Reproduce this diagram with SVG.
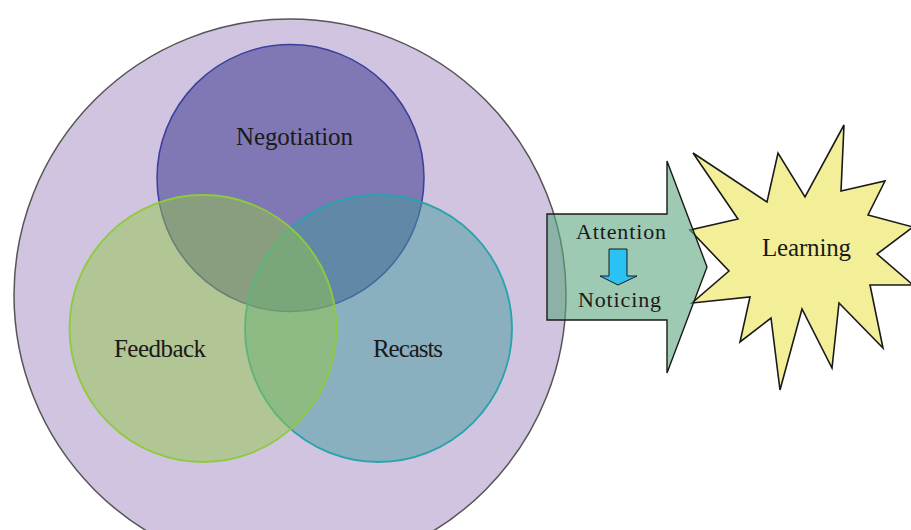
<svg xmlns="http://www.w3.org/2000/svg" width="911" height="530" viewBox="0 0 911 530">
<style>
.lbl{font-family:"Liberation Serif","Times New Roman",serif;fill:#1a1a1a;}
.big{font-size:25px;}
.small{font-size:22px;}
</style>
<rect width="911" height="530" fill="#ffffff"/>
<g id="context">
<circle cx="290" cy="295" r="276" fill="#d1c4e0" stroke="#555555" stroke-width="1.5"/>
</g>
<g id="negotiation">
<circle cx="290.5" cy="178" r="133.5" fill="#8077b5" stroke="#3b3f9c" stroke-width="1.5"/>
<text class="lbl big" x="294.5" y="145" text-anchor="middle" textLength="117">Negotiation</text>
</g>
<g id="recasts">
<circle cx="378.5" cy="328.5" r="133.5" fill="#439a9c" fill-opacity="0.5" stroke="#26a3ab" stroke-width="1.8"/>
<text class="lbl big" x="408" y="357" text-anchor="middle" textLength="70">Recasts</text>
</g>
<g id="feedback">
<circle cx="203" cy="328.5" r="133.5" fill="#92c64a" fill-opacity="0.5" stroke="#8ccc3c" stroke-width="1.8"/>
<text class="lbl big" x="160" y="357" text-anchor="middle" textLength="92">Feedback</text>
</g>
<g id="learning">
<polygon points="693,153 767,202 778,153 805,197 844,125 841,191 885,181 868,215 913,227 877,254 913,285 870,285 883,348 839,303 832,368 802,309 780,390 771,318 740,342 750,297 692,303 729,271 690,230 738,219" fill="#f3ef98" stroke="#1a1a1a" stroke-width="1.6" stroke-linejoin="miter"/>
<text class="lbl big" x="806.5" y="256" text-anchor="middle" textLength="89">Learning</text>
</g>
<g id="connectors">
<polygon points="547,214 667,214 667,161 707,267 667,373 667,320 547,320" fill="#5da782" fill-opacity="0.6" stroke="#1a1a1a" stroke-width="1.4"/>
<polygon points="609,249 627,249 627,276 637,276 618,285 600,276 609,276" fill="#29c2f2" stroke="#1a1a1a" stroke-width="1"/>
</g>
<g id="attention">
<text class="lbl small" x="621" y="239" text-anchor="middle" textLength="90">Attention</text>
</g>
<g id="noticing">
<text class="lbl small" x="619.5" y="307" text-anchor="middle" textLength="83">Noticing</text>
</g>
</svg>
